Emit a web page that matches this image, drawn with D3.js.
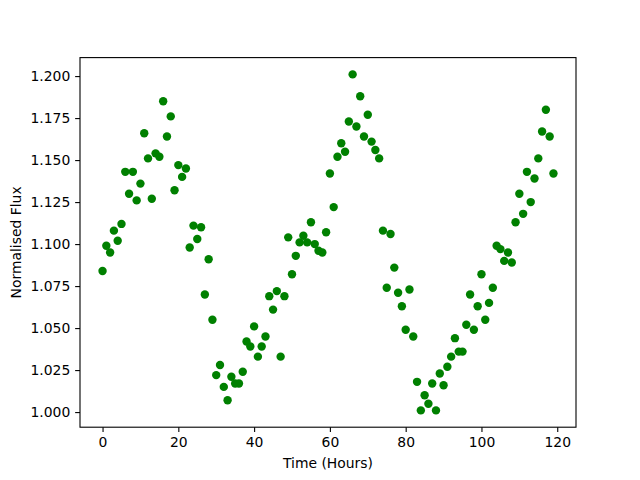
<!DOCTYPE html>
<html>
<head>
<meta charset="utf-8">
<script src="https://cdn.jsdelivr.net/npm/d3@7"></script>
<style>
  body { margin: 0; background: #fff; }
  svg { display: block; font-family: "DejaVu Sans", sans-serif; }
</style>
</head>
<body>
<div id="chart"></div>
<script>
// hours 0..119, one reading per hour
var hours = d3.range(0, 120);
var flux = [
  1.084, 1.099, 1.095, 1.108, 1.102, 1.112, 1.143, 1.130, 1.143, 1.126,
  1.136, 1.166, 1.151, 1.127, 1.154, 1.152, 1.185, 1.164, 1.176, 1.132,
  1.147, 1.140, 1.145, 1.098, 1.111, 1.103, 1.110, 1.070, 1.091, 1.055,
  1.022, 1.028, 1.015, 1.007, 1.021, 1.017, 1.017, 1.024, 1.042, 1.039,
  1.051, 1.033, 1.039, 1.045, 1.069, 1.061, 1.072, 1.033, 1.069, 1.104,
  1.082, 1.093, 1.101, 1.105, 1.101, 1.113, 1.100, 1.096, 1.095, 1.107,
  1.142, 1.122, 1.152, 1.160, 1.155, 1.173, 1.201, 1.170, 1.188, 1.164,
  1.177, 1.161, 1.156, 1.151, 1.108, 1.074, 1.106, 1.086, 1.071, 1.063,
  1.049, 1.073, 1.045, 1.018, 1.001, 1.010, 1.005, 1.017, 1.001, 1.023,
  1.016, 1.027, 1.033, 1.044, 1.036, 1.036, 1.052, 1.070, 1.049, 1.063,
  1.082, 1.055, 1.065, 1.074, 1.099, 1.097, 1.090, 1.095, 1.089, 1.113,
  1.130, 1.118, 1.143, 1.125, 1.139, 1.151, 1.167, 1.180, 1.164, 1.142
];
var xTicks = [0, 20, 40, 60, 80, 100, 120];
var yTicks = [1.000, 1.025, 1.050, 1.075, 1.100, 1.125, 1.150, 1.175, 1.200];

var data = hours.map(function (h, i) { return {t: h, f: flux[i]}; });

// same layout as a default matplotlib figure
var width = 640, height = 480;
var margin = {top: 57.6, right: 64, bottom: 52.8, left: 80};
var w = width - margin.left - margin.right,
    h = height - margin.top - margin.bottom;

var svg = d3.select("#chart")
  .append("svg")
    .attr("width", width)
    .attr("height", height);
var g = svg.append("g").attr("transform", "translate(" + margin.left + "," + margin.top + ")");

// 5% padding on both ends like matplotlib autoscale
function padded(ext) {
  var p = (ext[1] - ext[0]) * 0.05;
  return [ext[0] - p, ext[1] + p];
}

var xScale = d3.scaleLinear()
  .domain(padded(d3.extent(hours)))
  .range([0, w]);
var yScale = d3.scaleLinear()
  .domain(padded(d3.extent(flux)))
  .range([h, 0]);

var tickLen = 4.86, fontPx = 13.9;

var xAxis = g.append("g")
  .attr("transform", "translate(0," + h + ")")
  .call(d3.axisBottom(xScale).tickValues(xTicks).tickSizeInner(tickLen).tickSizeOuter(0).tickPadding(4.86).tickFormat(d3.format("d")));
var yAxis = g.append("g")
  .call(d3.axisLeft(yScale).tickValues(yTicks).tickSizeInner(tickLen).tickSizeOuter(0).tickPadding(4.86).tickFormat(d3.format(".3f")));

[xAxis, yAxis].forEach(function (ax) {
  ax.select(".domain").remove();
  ax.selectAll("line").attr("stroke", "#000").attr("stroke-width", 1.1);
  ax.selectAll("text").attr("font-size", fontPx).attr("font-family", "DejaVu Sans").attr("fill", "#000");
});

// points
g.append("g")
  .selectAll("circle")
  .data(data)
  .enter()
  .append("circle")
    .attr("cx", function (d) { return xScale(d.t); })
    .attr("cy", function (d) { return yScale(d.f); })
    .attr("r", 4.2)
    .style("fill", "green");

// frame
g.append("rect")
  .attr("width", w)
  .attr("height", h)
  .attr("fill", "none")
  .attr("stroke", "#000")
  .attr("stroke-width", 1.1);

// labels
svg.append("text")
  .attr("x", margin.left + w / 2)
  .attr("y", 468)
  .attr("text-anchor", "middle")
  .attr("font-size", fontPx)
  .text("Time (Hours)");

svg.append("text")
  .attr("transform", "translate(21," + (margin.top + h / 2) + ") rotate(-90)")
  .attr("text-anchor", "middle")
  .attr("font-size", fontPx)
  .text("Normalised Flux");
</script>
</body>
</html>
